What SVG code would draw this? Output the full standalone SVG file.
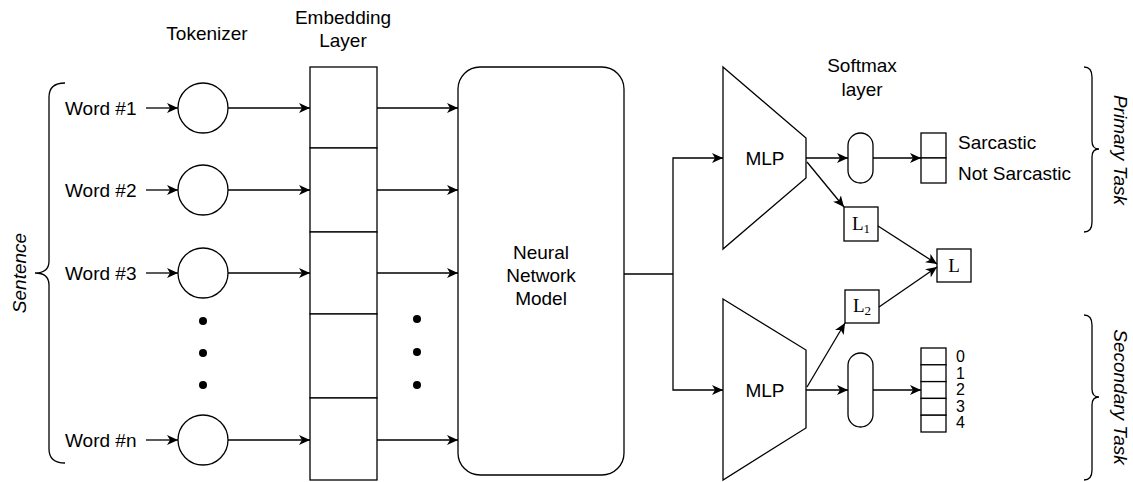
<svg xmlns="http://www.w3.org/2000/svg" width="1133" height="482" viewBox="0 0 1133 482">
<style>
text{font-family:"Liberation Sans",Arial,sans-serif;font-size:19px;fill:#000;dominant-baseline:central}
.m{text-anchor:middle}
.it{font-style:italic}
.ser{font-family:"Liberation Serif","Times New Roman",serif;font-size:19px}
.dg{font-size:16px}
.sh{fill:#fff;stroke:#000;stroke-width:1.3}
.ln{fill:none;stroke:#000;stroke-width:1.3}
.ar{fill:none;stroke:#000;stroke-width:1.3;marker-end:url(#a)}
</style>
<defs>
<marker id="a" markerUnits="userSpaceOnUse" markerWidth="12" markerHeight="10" viewBox="0 0 12 10" refX="11" refY="5" orient="auto">
<path d="M0,0 L11,5 L0,10 L3,5 z" fill="#000"/>
</marker>
</defs>
<g id="labels">
<text class="m" x="207" y="33">Tokenizer</text>
<text class="m" x="343" y="17">Embedding</text>
<text class="m" x="343" y="40">Layer</text>
<text class="m" x="862" y="65">Softmax</text>
<text class="m" x="862" y="89">layer</text>
</g>
<g id="sentence">
<path class="ln" d="M65,83 Q49,83 49,97 L49,261 Q49,273 35,273 Q49,273 49,285 L49,449 Q49,463 65,463"/>
<text class="m it" transform="translate(19,273) rotate(-90)">Sentence</text>
</g>
<g id="words">
<text x="65" y="108">Word #1</text>
<text x="65" y="190">Word #2</text>
<text x="65" y="273">Word #3</text>
<text x="65" y="440">Word #n</text>
</g>
<g id="tokenizer">
<circle class="sh" cx="203" cy="108" r="25"/>
<circle class="sh" cx="203" cy="190" r="25"/>
<circle class="sh" cx="203" cy="273" r="25"/>
<circle class="sh" cx="203" cy="440" r="25"/>
<circle cx="203" cy="321" r="4"/>
<circle cx="203" cy="353" r="4"/>
<circle cx="203" cy="385" r="4"/>
</g>
<g id="embedding">
<rect class="sh" x="310" y="67" width="67" height="81"/>
<rect class="sh" x="310" y="148" width="67" height="84"/>
<rect class="sh" x="310" y="232" width="67" height="82"/>
<rect class="sh" x="310" y="314" width="67" height="84"/>
<rect class="sh" x="310" y="398" width="67" height="82"/>
<circle cx="417" cy="319" r="4"/>
<circle cx="417" cy="352" r="4"/>
<circle cx="417" cy="385" r="4"/>
</g>
<g id="nn">
<rect class="sh" x="458" y="67" width="166" height="408" rx="22"/>
<text class="m" x="541" y="252">Neural</text>
<text class="m" x="541" y="275">Network</text>
<text class="m" x="541" y="298">Model</text>
</g>
<g id="mlp1">
<path class="sh" d="M723,67 L806,138 L806,178 L723,249 Z"/>
<text class="m" x="765" y="158">MLP</text>
</g>
<g id="mlp2">
<path class="sh" d="M723,299 L806,350 L806,428 L723,480 Z"/>
<text class="m" x="765" y="390">MLP</text>
</g>
<g id="softmax1"><rect class="sh" x="848" y="133" width="25" height="50" rx="12.5"/></g>
<g id="softmax2"><rect class="sh" x="848" y="353" width="25" height="74" rx="12.5"/></g>
<g id="out1">
<rect class="sh" x="921" y="133" width="25" height="25"/>
<rect class="sh" x="921" y="158" width="25" height="25"/>
<text x="958" y="142">Sarcastic</text>
<text x="958" y="173">Not Sarcastic</text>
</g>
<g id="out2">
<rect class="sh" x="921" y="348" width="25" height="16.8"/>
<rect class="sh" x="921" y="364.8" width="25" height="16.8"/>
<rect class="sh" x="921" y="381.6" width="25" height="16.8"/>
<rect class="sh" x="921" y="398.4" width="25" height="16.8"/>
<rect class="sh" x="921" y="415.2" width="25" height="16.8"/>
<text class="dg" x="956" y="356.5">0</text>
<text class="dg" x="956" y="373">1</text>
<text class="dg" x="956" y="389.5">2</text>
<text class="dg" x="956" y="406">3</text>
<text class="dg" x="956" y="422.5">4</text>
</g>
<g id="l1">
<rect class="sh" x="844" y="207" width="34" height="34"/>
<text class="ser" x="852" y="223">L<tspan font-size="13" dy="5">1</tspan></text>
</g>
<g id="l2">
<rect class="sh" x="845" y="290" width="34" height="33"/>
<text class="ser" x="853" y="305">L<tspan font-size="13" dy="5">2</tspan></text>
</g>
<g id="l">
<rect class="sh" x="937" y="249" width="34" height="33"/>
<text class="ser m" x="954" y="265">L</text>
</g>
<g id="primary">
<path class="ln" d="M1084,67 Q1092,67 1092,77 L1092,141 Q1092,149 1099,149 Q1092,149 1092,157 L1092,222 Q1092,232 1084,232"/>
<text class="m it" transform="translate(1120,150) rotate(90)">Primary Task</text>
</g>
<g id="secondary">
<path class="ln" d="M1084,315 Q1092,315 1092,325 L1092,389 Q1092,397 1099,397 Q1092,397 1092,405 L1092,470 Q1092,480 1084,480"/>
<text class="m it" transform="translate(1120,397) rotate(90)">Secondary Task</text>
</g>
<g id="connectors">
<line class="ar" x1="146" y1="108" x2="178" y2="108"/>
<line class="ar" x1="146" y1="190" x2="178" y2="190"/>
<line class="ar" x1="146" y1="273" x2="178" y2="273"/>
<line class="ar" x1="146" y1="440" x2="178" y2="440"/>
<line class="ar" x1="228" y1="108" x2="310" y2="108"/>
<line class="ar" x1="228" y1="190" x2="310" y2="190"/>
<line class="ar" x1="228" y1="273" x2="310" y2="273"/>
<line class="ar" x1="228" y1="440" x2="310" y2="440"/>
<line class="ar" x1="377" y1="108" x2="458" y2="108"/>
<line class="ar" x1="377" y1="190" x2="458" y2="190"/>
<line class="ar" x1="377" y1="273" x2="458" y2="273"/>
<line class="ar" x1="377" y1="440" x2="458" y2="440"/>
<line class="ln" x1="624" y1="274" x2="673" y2="274"/>
<path class="ar" d="M673,274 L673,158 L723,158"/>
<path class="ar" d="M673,274 L673,390 L723,390"/>
<line class="ar" x1="806" y1="158" x2="848" y2="158"/>
<line class="ar" x1="873" y1="158" x2="921" y2="158"/>
<line class="ar" x1="807" y1="162" x2="844" y2="207"/>
<line class="ar" x1="806" y1="390" x2="848" y2="390"/>
<line class="ar" x1="873" y1="390" x2="921" y2="390"/>
<line class="ar" x1="807" y1="387" x2="845" y2="323"/>
<line class="ar" x1="878" y1="226" x2="937" y2="264"/>
<line class="ar" x1="879" y1="307" x2="937" y2="267"/>
</g>
</svg>
